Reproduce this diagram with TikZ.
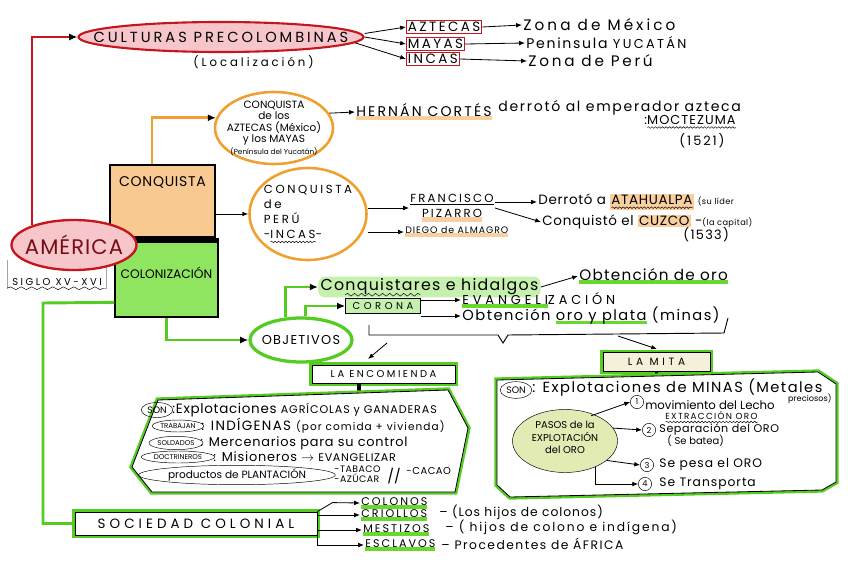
\documentclass[tikz,border=0pt]{standalone}
\usepackage{fontspec}
\setmainfont{Poppins}
\usetikzlibrary{arrows.meta,shapes.geometric,decorations.pathmorphing,calc}
\definecolor{redd}{HTML}{C4161C}
\definecolor{pinkfill}{HTML}{F7C6CB}
\definecolor{orline}{HTML}{F0A030}
\definecolor{orfill}{HTML}{F9C992}
\definecolor{orhl}{HTML}{F9CFA0}
\definecolor{grline}{HTML}{55CC22}
\definecolor{grfill}{HTML}{8FE460}
\definecolor{grhl}{HTML}{C6F0AE}
\definecolor{grul}{HTML}{66D830}
\definecolor{pasofill}{HTML}{E3EBB5}
\definecolor{creamfill}{HTML}{F6EFD9}
\newcommand{\lsp}[1]{\addfontfeature{LetterSpace=#1}}
\newsavebox{\ulbox}
\newcommand{\oul}[1]{\sbox{\ulbox}{#1}\rlap{\textcolor{orhl}{\rule[-3pt]{\wd\ulbox}{3.5pt}}}\usebox{\ulbox}}
\newcommand{\gul}[1]{\sbox{\ulbox}{#1}\rlap{\textcolor{grul}{\rule[-2.8pt]{\wd\ulbox}{3pt}}}\usebox{\ulbox}}
\newcommand{\bul}[1]{\sbox{\ulbox}{#1}\rlap{\rule[-2pt]{\wd\ulbox}{0.6pt}}\usebox{\ulbox}}
\newcommand{\wul}[1]{\sbox{\ulbox}{#1}\rlap{\tikz[baseline=0pt]\draw[black,line width=0.4pt,decorate,decoration={snake,amplitude=0.7pt,segment length=3pt}] (0pt,-2.5pt) -- (\the\wd\ulbox,-2.5pt);}\usebox{\ulbox}}
\setlength{\fboxsep}{1pt}
\begin{document}
\begin{tikzpicture}[x=0.03cm,y=-0.03cm,
  every node/.style={inner sep=1pt},
  hw/.style={anchor=west,font=\fontsize{#1}{#1}\selectfont},
  hw/.default=10,
  arr/.style={-{Latex[length=5pt,width=4pt]},line width=0.7pt},
  redln/.style={draw=redd,line width=1.8pt},
  orln/.style={draw=orline,line width=2.2pt},
  grln/.style={draw=grline,line width=2.5pt},
  grarr/.style={grln,-{Latex[length=7pt,width=6pt,color=black]}},
  redbox/.style={anchor=west,draw=redd,line width=0.8pt,inner sep=1.2pt,font=\fontsize{11.5}{11.5}\selectfont\lsp{18}},
  oval/.style={ellipse,draw,inner sep=0.5pt},
  halo/.style={preaction={draw=grline,line width=4.5pt},draw=black,line width=0.7pt},
  numc/.style={circle,draw,inner sep=0pt,minimum size=0.4cm,font=\fontsize{7}{7}\selectfont}
]
\useasboundingbox (0,0) rectangle (848,565);

\node[ellipse,redln,fill=pinkfill,minimum width=8.55cm,minimum height=0.9cm,
  label={[font=\fontsize{12.5}{12.5}\selectfont\lsp{20}]center:CULTURAS PRECOLOMBINAS}] (cult) at (221,37) {};
\node[hw=10] (loc) at (192,62) {\lsp{25}(Localización)};
\node[redbox] (azt) at (406,27) {AZTECAS};
\node[redbox] (may) at (406,44) {MAYAS};
\node[redbox] (inc) at (406,59) {INCAS};
\node[hw=13] (zm) at (522,25) {\lsp{20}Zona de México};
\node[hw=12] (py) at (525,43) {\lsp{12}Peninsula {\fontsize{11}{11}\selectfont\lsp{18}YUCATÁN}};
\node[hw=13] (zp) at (527,61) {\lsp{18}Zona de Perú};
\draw[arr] ([yshift=3pt]cult.east) -- (azt.west);
\draw[arr] (cult.east) -- (may.west);
\draw[arr] ([xshift=-8pt,yshift=-5pt]cult.east) -- (inc.west);
\draw[arr] (azt.east) -- (zm.west);
\draw[arr] (may.east) -- (py.west);
\draw[arr] (inc.east) -- (zp.west);

\node[draw,line width=1pt,fill=orfill,minimum width=3.15cm,minimum height=2.16cm,
  label={[font=\fontsize{12}{12}\selectfont\lsp{5},anchor=center,yshift=-15pt]north:CONQUISTA}] (conq) at (162.5,201) {};
\node[draw,line width=1pt,fill=grfill,minimum width=3.09cm,minimum height=2.25cm,
  label={[font=\fontsize{10.5}{10.5}\selectfont,yshift=5.5pt]center:COLONIZACIÓN}] (col) at (166.5,279.5) {};
\fill (conq.south west) rectangle (col.north east);

\node[minimum width=2.97cm,minimum height=0.84cm,
  label={[font=\fontsize{8.5}{8.5}\selectfont\lsp{25},yshift=-7pt]center:SIGLO XV-XVI}] (sig) at (57,274) {};
\draw (sig.north west) -- (sig.south west)
  decorate[decoration={snake,amplitude=1.2pt,segment length=9pt}]{-- (sig.south east)} -- (sig.north east);
\node[ellipse,redln,line width=2pt,fill=pinkfill,minimum width=3.75cm,minimum height=1.5cm,
  label={[font=\fontsize{18}{18}\selectfont\lsp{5},text=redd!60!black]center:AMÉRICA}] (am) at (74,245) {};
\draw[redln,-{Latex[length=7pt,width=6pt,color=black]}] (am.155) |- (cult.west);

\node[ellipse,orln,fill=white,minimum width=3.54cm,minimum height=2.16cm,
  label={[align=center,font=\fontsize{9}{9.8}\selectfont]center:CONQUISTA\\de los\\AZTECAS (México)\\y los MAYAS\\{\fontsize{6.2}{6.2}\selectfont(Península del Yucatán)}}] (caz) at (274,128) {};
\draw[orln,-{Latex[length=7pt,width=6pt,color=black]}] ($(conq.north west)!.4!(conq.north east)$) |- (caz.170);
\node[hw=12] (hc) at (355,112) {\lsp{15}\oul{HERNÁN CORTÉS}};
\node[hw=12] (der) at (497,108) {\lsp{12}derrotó al emperador azteca};
\node[hw=11] (moc) at (643,122) {\lsp{8}:\wul{MOCTEZUMA}};
\node[hw=11] (y21) at (678,141) {\lsp{15}(1521)};
\draw[arr] (caz.15) -- (hc.west);

\node[ellipse,orln,fill=white,minimum width=3.51cm,minimum height=2.76cm,
  label={[align=left,font=\fontsize{10}{13}\selectfont\lsp{22}]center:CONQUISTA\\de\\PERÚ\\-\wul{INCAS}-}] (cpe) at (308,214) {};
\draw[arr] (conq.east |- cpe.west) -- (cpe.west);
\node[font=\fontsize{10}{13}\selectfont\lsp{18},align=center] (fp) at (452,208) {\bul{FRANCISCO}\\\oul{PIZARRO}};
\node[hw=8] (da) at (404,232) {\lsp{10}\oul{DIEGO de ALMAGRO}};
\draw[arr] (cpe.east |- fp.west) -- (fp.west);
\draw[arr] (cpe.east |- da.west) -- (da.west);
\node[hw=11.5] (dat) at (537,202) {\lsp{5}Derrotó a \colorbox{orhl}{\wul{ATAHUALPA}} {\fontsize{7}{7}\selectfont(su líder}};
\node[hw=11.5] (cuz) at (541,222) {\lsp{5}Conquistó el \colorbox{orhl}{CUZCO} -{\fontsize{7}{7}\selectfont(la capital)}};
\node[hw=11] (y33) at (682,235) {\lsp{10}(1533)};
\draw[arr] (fp.east |- dat.west) -- (dat.west);
\draw[arr] (fp.east) -- (cuz.west);

\node[ellipse,draw=grline,line width=2.8pt,fill=white,minimum width=3.06cm,minimum height=1.32cm,
  label={[font=\fontsize{11}{11}\selectfont\lsp{10}]center:OBJETIVOS}] (obj) at (301,340) {};
\draw[grarr] (col.south) |- (obj.west);
\node[hw=13.5,fill=grhl,rounded corners=6pt,inner sep=2pt] (con) at (318,287) {\lsp{8}Conquistares e hidalgos};
\node[hw=13] (obt) at (578,276) {\lsp{8}\gul{Obtención de oro}};
\draw[arr] (con.east) -- (obt.west);
\node[draw,fill=grhl,minimum width=2.25cm,minimum height=0.45cm,font=\fontsize{8.5}{8.5}\selectfont\lsp{35}] (cor) at (383,306) {CORONA};
\draw[decorate,decoration={snake,amplitude=1.2pt,segment length=6pt}] ([yshift=3pt]cor.north west) -- ([yshift=3pt]cor.north east);
\draw[grarr] (obj.125) |- (con.west);
\draw[grarr] (obj.80) |- (cor.west);
\node[hw=11] (evg) at (461,300) {\lsp{30}\gul{EVANGELI}ZACIÓN};
\node[hw=12.5] (obo) at (461,316) {\lsp{10}Obtención \gul{oro y plata} (minas)};
\draw[arr] (cor.east |- evg.west) -- (evg.west);
\draw[arr] (cor.east |- obo.west) -- (obo.west);

\draw[line width=0.8pt] (369,325) -- (369,335) -- (498,335) -- (503,343) -- (508,335) -- (724,333) -- (728,318);
\coordinate (b1) at (387,343);
\coordinate (b2) at (618,336);

\node[halo,fill=white,minimum width=4.29cm,minimum height=0.54cm,font=\fontsize{8.5}{8.5}\selectfont\lsp{25}] (enc) at (383.5,374) {LA ENCOMIENDA};
\draw[arr] (b1) -- ++(-19,16);
\draw[line width=3pt] ($(enc.south west)!.33!(enc.south east)$) -- ++(0,12);
\draw[halo,fill=white] (158,400) -- (448,390) -- (468,428) -- (455,492) -- (152,492) -- (132,467) -- cycle;
\node[oval,minimum width=0.95cm,minimum height=0.45cm,font=\fontsize{8}{8}\selectfont] (son1) at (157,410) {SON};
\node[hw=11.5] (r1) at (171,410) {\lsp{5}:Explotaciones {\fontsize{9.5}{9.5}\selectfont\lsp{8}AGRÍCOLAS y GANADERAS}};
\node[oval,minimum width=1.5cm,minimum height=0.36cm,font=\fontsize{6}{6}\selectfont] (trab) at (178,426) {TRABAJAN};
\node[hw=11.5] (r2) at (200,426) {\lsp{10}: INDÍGENAS {\fontsize{9}{9}\selectfont\lsp{10}(por comida + vivienda)}};
\node[oval,minimum width=1.5cm,minimum height=0.4cm,font=\fontsize{6}{6}\selectfont] (sold) at (176,443) {SOLDADOS};
\node[hw=11] (r3) at (199,443) {\lsp{6}: Mercenarios para su control};
\node[oval,minimum width=2.2cm,minimum height=0.36cm,font=\fontsize{6}{6}\selectfont] (doc) at (178,457) {DOCTRINEROS};
\node[hw=11] (r4) at (212,457) {\lsp{6}: Misioneros $\rightarrow$ {\fontsize{9.5}{9.5}\selectfont\lsp{6}EVANGELIZAR}};
\node[oval,minimum width=5.4cm,minimum height=0.45cm,font=\fontsize{9}{9}\selectfont] (plan) at (237,475) {productos de PLANTACIÓN};
\node[hw=7,align=left,font=\fontsize{8}{9}\selectfont\lsp{5}] (tab) at (333,474) {-TABACO\\-AZÚCAR};
\node[hw=12] (sl) at (386,476) {//};
\node[hw=8.5] (cac) at (405,471) {\lsp{5}-CACAO};

\node[halo,fill=creamfill,minimum width=3.21cm,minimum height=0.57cm,font=\fontsize{9}{9}\selectfont\lsp{35}] (mita) at (656.5,362) {LA MITA};
\draw[arr] (b2) -- ++(39,13);
\draw[line width=3pt] (mita.south) -- ++(0,8);
\draw[halo,fill=white] (497,380) -- (818,372) -- (836,384) -- (836,482) -- (822,490) -- (510,497) -- (497,485) -- cycle;
\node[oval,minimum width=0.95cm,minimum height=0.5cm,font=\fontsize{8}{8}\selectfont] (son2) at (516,390) {SON};
\node[hw=12.5] (m1) at (531,388) {\lsp{10}: Explotaciones de MINAS (Metales};
\node[anchor=east,font=\fontsize{7}{7}\selectfont] (m1b) at (833,399) {preciosos)};
\node[ellipse,draw,fill=pasofill,minimum width=3.15cm,minimum height=1.89cm,
  label={[align=center,font=\fontsize{8.5}{10.5}\selectfont,yshift=3pt]center:PASOS de la\\EXPLOTACIÓN\\del ORO}] (pasos) at (565,441) {};
\node[numc] (c1) at (637,402) {1};
\node[numc] (c2) at (649,430) {2};
\node[numc] (c3) at (647,465) {3};
\node[numc] (c4) at (645,484) {4};
\node[hw=10] (t1) at (644,405) {movimiento del Lecho};
\node[hw=7.5] (t1b) at (664,417) {\lsp{15}\wul{EXTRACCIÓN ORO}};
\node[hw=9.5] (t2) at (658,430) {\lsp{5}Separación del ORO};
\node[hw=8.5] (t2b) at (666,441) {( Se batea)};
\node[hw=10.5] (t3) at (658,465) {\lsp{8}Se pesa el ORO};
\node[hw=10.5] (t4) at (658,484) {\lsp{8}Se Transporta};
\draw[arr] ($(pasos.north)!.7!(pasos.north east)$) -- (c1.west);
\draw[arr] (pasos.15) -- (c2.west);
\draw[arr] (pasos.-25) -- (c3.west);
\draw[arr] (pasos.-40) |- (c4.west);

\node[halo,fill=white,minimum width=7.26cm,minimum height=0.69cm,font=\fontsize{11.5}{11.5}\selectfont\lsp{30}] (soc) at (196,523.5) {SOCIEDAD COLONIAL};
\coordinate (gk) at (43,303);
\draw[grln] ($(col.south west)!.2!(col.north west)$) -- (gk) |- (soc.west);
\node[hw=9.5] (cln) at (360,503) {\lsp{18}\gul{COLONOS}};
\node[hw=9.5] (cri) at (360,515) {\lsp{18}\gul{CRIOLLOS}};
\node[hw=9.5] (mes) at (362,530) {\lsp{18}\gul{MESTIZOS}};
\node[hw=9.5] (esc) at (364,545) {\lsp{18}\gul{ESCLAVOS}};
\node[hw=10.5] (h1) at (438,512) {\lsp{8}– (Los hijos de colonos)};
\node[hw=10.5] (h2) at (444,527) {\lsp{15}– ( hijos de colono e indígena)};
\node[hw=10.5] (h3) at (440,544) {\lsp{12}– Procedentes de ÁFRICA};
\draw[arr] (soc.north east) -- ++(15,-9) -- (cln.west);
\draw[arr] (soc.east |- cri.west) -- (cri.west);
\draw[arr] (soc.east |- mes.west) -- (mes.west);
\draw[arr] (soc.south east) |- (esc.west);
\end{tikzpicture}
\end{document}
